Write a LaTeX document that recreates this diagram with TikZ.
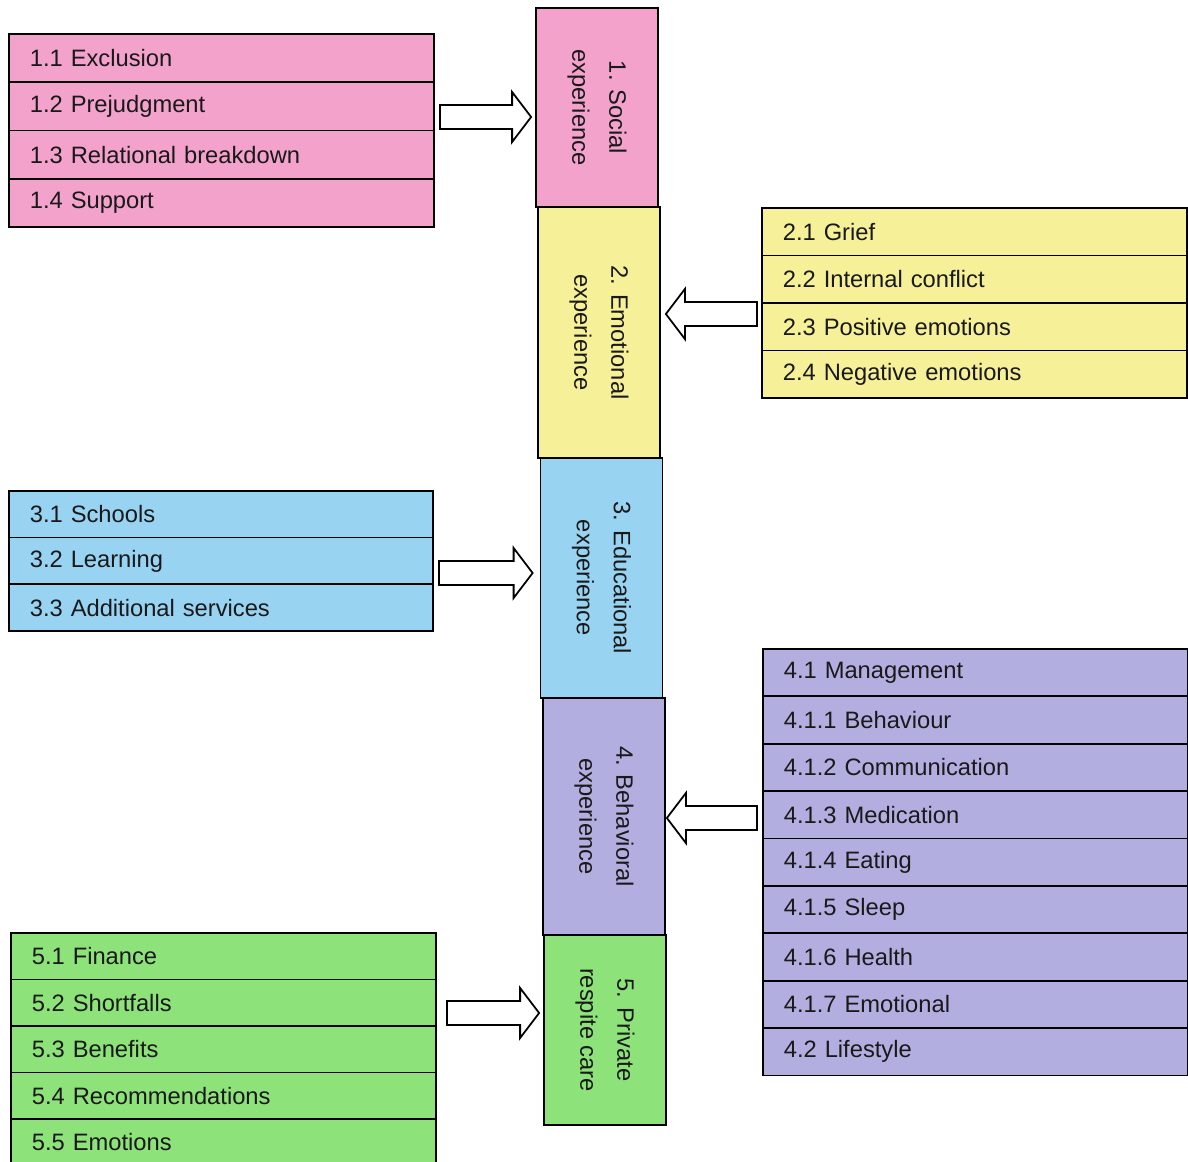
\documentclass[tikz,border=0pt]{standalone}
\usepackage{fontspec}
\setmainfont{Liberation Sans}
\usetikzlibrary{calc}
\definecolor{socpink}{RGB}{243,162,203}
\definecolor{emoyellow}{RGB}{246,240,152}
\definecolor{edublue}{RGB}{152,212,242}
\definecolor{behpurple}{RGB}{178,174,224}
\definecolor{resgreen}{RGB}{142,226,122}
% hollow block arrow from tail (#1) to tip (#2)
\newcommand{\blockarrow}[2]{%
  \draw[fatarrow] ($(#1)+(0,2.4mm)$) -- ($(#2)!3.8mm!(#1)+(0,2.4mm)$) -- ($(#2)!3.8mm!(#1)+(0,5mm)$)
    -- (#2) -- ($(#2)!3.8mm!(#1)+(0,-5mm)$) -- ($(#2)!3.8mm!(#1)+(0,-2.4mm)$) -- ($(#1)+(0,-2.4mm)$) -- cycle;}
\begin{document}
\begin{tikzpicture}[x=0.2mm, y=-0.2mm, every node/.style={font=\fontsize{13.5}{16}\selectfont, text=black!90},
  sub/.style={draw, line width=1pt, anchor=north west, text width=76.6mm, inner xsep=4.2mm, inner ysep=0pt, align=left},
  theme/.style={draw, line width=1pt, rotate=-90, minimum height=24.4mm, inner sep=0pt, align=center, font=\fontsize{13.5}{21}\selectfont},
  fatarrow/.style={draw, line width=1pt, fill=white}]
\useasboundingbox (0,0) rectangle (1188,1162);
% central column
\node[theme,fill=socpink,minimum width=39.8mm] (soc) at (597,107.5) {1. Social\\ experience};
\node[theme,fill=emoyellow,minimum width=50.2mm] (emo) at (599,332.5) {2. Emotional\\ experience};
\node[theme,fill=edublue,minimum width=48mm] (edu) at (601.5,578) {3. Educational\\ experience};
\node[theme,fill=behpurple,minimum width=47.4mm] (beh) at (604,816.5) {4. Behavioral\\ experience};
\node[theme,fill=resgreen,minimum width=38mm] (res) at (605,1030) {5. Private\\ respite care};
% 1 social
\node[sub,fill=socpink,minimum height=9.66mm] (s11) at (8,33) {1.1 Exclusion};
\node[sub,fill=socpink,minimum height=9.66mm] (s12) at (8,81.3) {1.2 Prejudgment};
\node[sub,fill=socpink,minimum height=9.66mm] (s13) at (8,129.6) {1.3 Relational breakdown};
\node[sub,fill=socpink,minimum height=9.66mm] (s14) at (8,177.9) {1.4 Support};
% 2 emotional
\node[sub,fill=emoyellow,minimum height=9.5mm] (e21) at (761,207) {2.1 Grief};
\node[sub,fill=emoyellow,minimum height=9.5mm] (e22) at (761,254.5) {2.2 Internal conflict};
\node[sub,fill=emoyellow,minimum height=9.5mm] (e23) at (761,302) {2.3 Positive emotions};
\node[sub,fill=emoyellow,minimum height=9.5mm] (e24) at (761,349.5) {2.4 Negative emotions};
% 3 educational
\node[sub,fill=edublue,minimum height=9.34mm,text width=76.4mm] (d31) at (8,490) {3.1 Schools};
\node[sub,fill=edublue,minimum height=9.34mm,text width=76.4mm] (d32) at (8,536.7) {3.2 Learning};
\node[sub,fill=edublue,minimum height=9.34mm,text width=76.4mm] (d33) at (8,583.4) {3.3 Additional services};
% 4 behavioral
\node[sub,fill=behpurple,minimum height=9.48mm] (b41) at (762,648) {4.1 Management};
\node[sub,fill=behpurple,minimum height=9.48mm] (b411) at (762,695.4) {4.1.1 Behaviour};
\node[sub,fill=behpurple,minimum height=9.48mm] (b412) at (762,742.8) {4.1.2 Communication};
\node[sub,fill=behpurple,minimum height=9.48mm] (b413) at (762,790.2) {4.1.3 Medication};
\node[sub,fill=behpurple,minimum height=9.48mm] (b414) at (762,837.6) {4.1.4 Eating};
\node[sub,fill=behpurple,minimum height=9.48mm] (b415) at (762,885) {4.1.5 Sleep};
\node[sub,fill=behpurple,minimum height=9.48mm] (b416) at (762,932.4) {4.1.6 Health};
\node[sub,fill=behpurple,minimum height=9.48mm] (b417) at (762,979.8) {4.1.7 Emotional};
\node[sub,fill=behpurple,minimum height=9.48mm] (b42) at (762,1027.2) {4.2 Lifestyle};
% 5 private respite care
\node[sub,fill=resgreen,minimum height=9.3mm] (p51) at (10,932) {5.1 Finance};
\node[sub,fill=resgreen,minimum height=9.3mm] (p52) at (10,978.5) {5.2 Shortfalls};
\node[sub,fill=resgreen,minimum height=9.3mm] (p53) at (10,1025) {5.3 Benefits};
\node[sub,fill=resgreen,minimum height=9.3mm] (p54) at (10,1071.5) {5.4 Recommendations};
\node[sub,fill=resgreen,minimum height=9.3mm] (p55) at (10,1118) {5.5 Emotions};
% arrows, tips stop just short of the column
\coordinate (t1) at (440,117);  \coordinate (h1) at ($(soc.south |- t1)+(-4,0)$);
\coordinate (t2) at (757,314);  \coordinate (h2) at ($(emo.north |- t2)+(5,0)$);
\coordinate (t3) at (439,573);  \coordinate (h3) at ($(edu.south |- t3)+(-7,0)$);
\coordinate (t4) at (757,818);  \coordinate (h4) at ($(beh.north |- t4)+(1,0)$);
\coordinate (t5) at (447,1013); \coordinate (h5) at ($(res.south |- t5)+(-4,0)$);
\blockarrow{t1}{h1}
\blockarrow{t2}{h2}
\blockarrow{t3}{h3}
\blockarrow{t4}{h4}
\blockarrow{t5}{h5}
\end{tikzpicture}
\end{document}
